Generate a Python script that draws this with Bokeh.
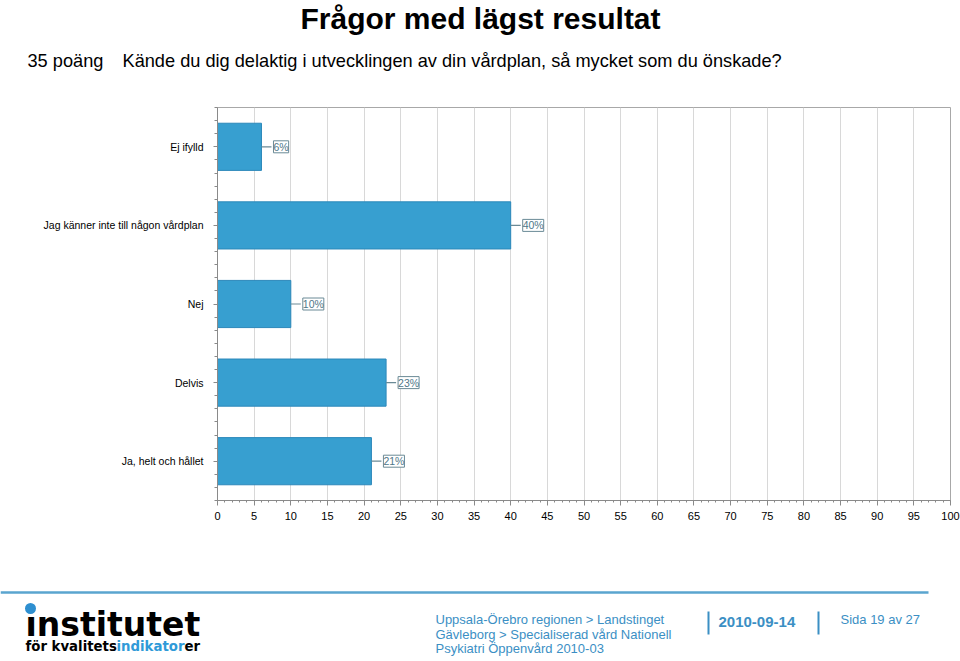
from bokeh.plotting import figure
from bokeh.layouts import column
from bokeh.models import ColumnDataSource, Range1d, FixedTicker, LabelSet
from bokeh.core.properties import value
from bokeh.embed import file_html
from bokeh.resources import INLINE

# ---- data ----
categories = ["Ej ifylld", "Jag känner inte till någon vårdplan", "Nej", "Delvis", "Ja, helt och hållet"]
percent = [6, 40, 10, 23, 21]
x_ticks = [0, 5, 10, 15, 20, 25, 30, 35, 40, 45, 50, 55, 60, 65, 70, 75, 80, 85, 90, 95, 100]

title_text = "Frågor med lägst resultat"
points_text = "35 poäng"
question_text = "Kände du dig delaktig i utvecklingen av din vårdplan, så mycket som du önskade?"
footer_lines = ["Uppsala-Örebro regionen > Landstinget",
                "Gävleborg > Specialiserad vård Nationell",
                "Psykiatri Öppenvård 2010-03"]
date_text = "2010-09-14"
page_text = "Sida 19 av 27"
logo_word = "institutet"
logo_parts = ["för kvalitets", "indikator", "er"]

# ---- layout sizes ----
W = 960
HEAD_H = 105
FL, FR, FT, FB = 217, 10, 2, 50
FW, FH = W - FL - FR, 393
CHART_H = FT + FH + FB
FOOT_H = 660 - HEAD_H - CHART_H
SANS = "Liberation Sans"
blue = "#3b8fc4"


def blank(height):
    f = figure(width=W, height=height, x_range=Range1d(0, W), y_range=Range1d(height, 0),
               x_axis_location=None, y_axis_location=None, title=None,
               min_border=0, output_backend="svg", toolbar_location=None)
    f.grid.visible = False
    f.outline_line_color = None
    f.background_fill_color = "white"
    f.border_fill_color = "white"
    f.frame_align = False
    return f


# ---- header ----
head = blank(HEAD_H)
head.text(x=[480], y=[18], text=[title_text], text_align="center", text_baseline="middle",
          text_font=value(SANS), text_font_style="bold", text_font_size="30px", text_color="black")
head.text(x=[27, 122], y=[60, 60], text=[points_text, question_text], text_align="left",
          text_baseline="middle", text_font=value(SANS), text_font_size="18.2px", text_color="black")

# ---- chart ----
n = len(categories)
ypos = [n - i - 0.5 for i in range(n)]
px_per_unit = FW / 100.0
gap_px = 10
src = ColumnDataSource(dict(
    y=ypos,
    value=percent,
    value_gap=[v + gap_px / px_per_unit for v in percent],
    label=[f"{v}%" for v in percent],
))

p = figure(frame_width=FW, frame_height=FH, title=None,
           x_range=Range1d(0, 100), y_range=Range1d(0, n),
           min_border_left=FL, min_border_right=FR, min_border_top=FT, min_border_bottom=FB,
           output_backend="svg", toolbar_location=None)
p.frame_align = False
p.background_fill_color = "white"
p.border_fill_color = "white"
p.outline_line_color = "#a8a8a8"
p.ygrid.grid_line_color = None
p.xgrid.grid_line_color = "#d8d8d8"

p.xaxis.ticker = FixedTicker(ticks=x_ticks, minor_ticks=list(range(0, 101)))
p.xaxis.axis_line_color = "#8a8a8a"
p.xaxis.major_tick_line_color = "#8a8a8a"
p.xaxis.minor_tick_line_color = "#8a8a8a"
p.xaxis.major_tick_out = 5
p.xaxis.major_tick_in = 0
p.xaxis.minor_tick_out = 2
p.xaxis.minor_tick_in = 0
p.xaxis.major_label_text_font = SANS
p.xaxis.major_label_text_font_size = "11px"
p.xaxis.major_label_text_color = "black"
p.xaxis.major_label_standoff = 6

p.yaxis.ticker = FixedTicker(ticks=ypos, minor_ticks=[k / 6 for k in range(6 * n + 1)])
p.yaxis.major_label_overrides = {y: c for y, c in zip(ypos, categories)}
p.yaxis.axis_line_color = "#8a8a8a"
p.yaxis.major_tick_line_color = "#8a8a8a"
p.yaxis.minor_tick_line_color = "#8a8a8a"
p.yaxis.major_tick_out = 4
p.yaxis.major_tick_in = 0
p.yaxis.minor_tick_out = 3
p.yaxis.minor_tick_in = 0
p.yaxis.major_label_text_font = SANS
p.yaxis.major_label_text_font_size = "10.5px"
p.yaxis.major_label_text_color = "black"
p.yaxis.major_label_standoff = 10

p.hbar(y="y", left=0, right="value", height=0.6, source=src,
       fill_color="#379fd0", line_color="#2c88ba", line_width=1)
p.segment(x0="value", y0="y", x1="value_gap", y1="y", source=src,
          line_color="#6a8a96", line_width=1.2)
p.add_layout(LabelSet(x="value_gap", y="y", text="label", source=src,
                      x_offset=2, text_align="left", text_baseline="middle",
                      text_font=value(SANS), text_font_size="10.5px", text_color="#4f7788",
                      background_fill_color="white", border_line_color="#6a8a96",
                      border_line_width=1))

# ---- footer (coordinates relative to footer top) ----
foot = blank(FOOT_H)
F0 = HEAD_H + CHART_H
foot.segment(x0=[0], y0=[592 - F0], x1=[928], y1=[592 - F0], line_color="#5aa5cf", line_width=2.5)
foot.segment(x0=[708, 818], y0=[611 - F0] * 2, x1=[708, 818], y1=[634 - F0] * 2,
             line_color=blue, line_width=2)

foot.text(x=[25], y=[624 - F0], text=[logo_word], text_align="left", text_baseline="middle",
          text_font=value("DejaVu Sans"), text_font_style="bold", text_font_size="33px",
          text_color="black")
foot.rect(x=[30], y=[611 - F0], width=9, height=7, fill_color="white", line_color=None)
foot.scatter(x=[30], y=[608 - F0], size=11, marker="circle", fill_color="#2e8fd0", line_color=None)
foot.text(x=[25, 116, 184], y=[646 - F0] * 3, text=logo_parts, text_align="left",
          text_baseline="middle", text_font=value("DejaVu Sans"), text_font_style="bold",
          text_font_size="13.3px", text_color=["black", "#2f9ad8", "black"])

foot.text(x=[435] * 3, y=[619 - F0, 634 - F0, 648 - F0], text=footer_lines, text_align="left",
          text_baseline="middle", text_font=value(SANS), text_font_size="13px", text_color=blue)
foot.text(x=[718], y=[621 - F0], text=[date_text], text_align="left", text_baseline="middle",
          text_font=value(SANS), text_font_style="bold", text_font_size="15px", text_color=blue)
foot.text(x=[840], y=[619 - F0], text=[page_text], text_align="left", text_baseline="middle",
          text_font=value(SANS), text_font_size="13px", text_color=blue)

layout = column(head, p, foot, spacing=0)
open("out.html", "w").write(file_html(layout, INLINE))
